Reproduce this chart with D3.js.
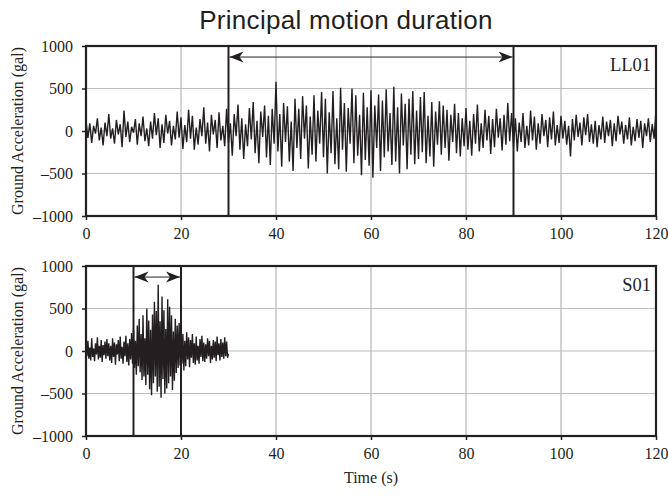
<!DOCTYPE html>
<html>
<head>
<meta charset="utf-8">
<script src="https://cdn.jsdelivr.net/npm/d3@7"></script>
<style>
  body { margin: 0; background: #fff; }
  svg { display: block; }
</style>
</head>
<body>
<div id="chart"></div>
<script>
// ground acceleration (gal)
const ll01Step = 0.4; // s between samples
const ll01 = [
  120, -80, 90, -140, 60, -30, 150, -110, 40, -170, 100, -60, 200, -90, 30, -150, 130, -40, 80, -190, 240, -70, 110, -130, 50,
  -20, 140, -160, 90, -60, 170, -120, 30, -180, 110, -90, 210, -50, 150, -200, 80, -140, 190, -30, 120, -170, 60, -100, 230, -80,
  160, -210, 70, -130, 250, -90, 180, -220, 40, -160, 140, -60, 280, -150, 100, -240, 190, -40, 130, -200, 220, -110, 60, -180, 260,
  -140, 90, -290, 200, -60, 310, -220, 150, -330, 80, -180, 270, -100, 340, -260, 120, -380, 230, -70, 300, -310, 180, -400, 260, -150,
  580, -240, 200, -420, 330, -130, 290, -360, 110, -470, 380, -200, 260, -330, 410, -90, 300, -440, 170, -280, 420, -360, 240, -150, 460,
  -310, 380, -500, 220, -260, 470, -390, 150, -450, 510, -220, 330, -480, 270, -150, 500, -380, 420, -290, 190, -520, 450, -340, 280, -410,
  480, -550, 300, -200, 430, -470, 360, -310, 490, -240, 210, -400, 520, -360, 280, -500, 440, -170, 320, -450, 380, -280, 470, -390, 240,
  -330, 400, -250, 460, -380, 180, -300, 340, -420, 230, -160, 350, -280, 300, -200, 250, -350, 190, -130, 320, -260, 210, -300, 150, -180,
  270, -220, 120, -290, 200, -150, 310, -240, 90, -200, 250, -110, 180, -270, 140, -190, 260, -80, 150, -230, 190, -160, 330, -120, 210,
  -180, 150, -240, 100, -130, 210, -200, 60, -170, 240, -110, 170, -220, 90, -150, 200, -60, 130, -190, 160, -100, 230, -170, 70, -140,
  180, -90, 120, -160, 60, -300, 140, -110, 190, -70, 100, -170, 160, -50, 200, -130, 80, -150, 120, -190, 70, -100, 170, -140, 110,
  -60, 130, -180, 90, -120, 180, -40, 110, -150, 70, -100, 160, -170, 50, -120, 140, -80, 120, -200, 90, -60, 150, -130, 80, -90,
  250
];

const s01Step = 0.2;
const s01 = [
  80, -60, 120, -90, 40, -110, 150, -70, 30, -120, 90, -40, 160, -100, 60, -80, 130, -130, 70, -50, 110, -90, 140, -60, 90,
  -110, 60, -140, 150, -70, 100, -160, 80, -40, 130, -120, 170, -90, 50, -150, 110, -60, 180, -130, 90, -170, 140, -100, 210, -150,
  250, -200, 120, -280, 300, -180, 380, -250, 200, -340, 420, -300, 150, -400, 500, -280, 360, -450, 250, -520, 430, -380, 580, -300, 470,
  -480, 780, -420, 350, -550, 640, -330, 480, -500, 260, -440, 610, -380, 520, -300, 420, -460, 230, -350, 380, -260, 300, -200, 330, -170,
  250, -150, 200, -230, 120, -180, 220, -100, 160, -190, 130, -80, 200, -140, 90, -160, 170, -110, 60, -150, 140, -70, 180, -120, 100,
  -130, 80, -90, 150, -60, 120, -140, 60, -100, 130, -80, 110, -120, 170, -50, 90, -110, 140, -70, 100, -90, 160, -60, 110, -80,
  -30
];

const stations = ["LL01", "S01"];
const durations = [[30, 90], [10, 20]];
const xTicks = [0, 20, 40, 60, 80, 100, 120];
const yTicks = [-1000, -500, 0, 500, 1000];

const width = 668, height = 495;
const left = 86, right = 656;
const panelTops = [46, 266];
const panelH = 170;

const svg = d3.select("#chart").append("svg")
    .attr("width", width)
    .attr("height", height);

svg.append("defs").append("marker")
    .attr("id", "head")
    .attr("viewBox", "0 -6 15 12")
    .attr("markerUnits", "userSpaceOnUse")
    .attr("markerWidth", 15)
    .attr("markerHeight", 12)
    .attr("refX", 14)
    .attr("refY", 0)
    .attr("orient", "auto-start-reverse")
    .append("path")
    .attr("d", "M0,-5.5L14,0L0,5.5L4,0Z")
    .attr("fill", "#231f20");

const x = d3.scaleLinear().domain([0, 120]).range([left, right]);

const serif = "'Liberation Serif', 'Times New Roman', serif";

svg.append("text")
    .attr("x", 346)
    .attr("y", 29)
    .attr("text-anchor", "middle")
    .attr("font-family", "'Liberation Sans', Arial, sans-serif")
    .attr("font-size", 26)
    .attr("letter-spacing", 0.3)
    .attr("fill", "#231f20")
    .text("Principal motion duration");

const series = [
  { data: ll01, dt: ll01Step },
  { data: s01, dt: s01Step }
];

series.forEach((s, k) => {
  const top = panelTops[k];
  const y = d3.scaleLinear().domain([-1000, 1000]).range([top + panelH, top]);
  const g = svg.append("g");

  // grid
  g.append("g").selectAll("line")
    .data(xTicks.slice(1, -1))
    .join("line")
    .attr("x1", d => x(d)).attr("x2", d => x(d))
    .attr("y1", top).attr("y2", top + panelH)
    .attr("stroke", "#a6a6a6").attr("stroke-width", 1);
  g.append("g").selectAll("line")
    .data(yTicks.slice(1, -1))
    .join("line")
    .attr("x1", left).attr("x2", right)
    .attr("y1", d => y(d)).attr("y2", d => y(d))
    .attr("stroke", "#bdbdbd").attr("stroke-width", 1.2);

  // axes
  const yAxis = g.append("g")
    .attr("transform", `translate(${left},0)`)
    .call(d3.axisLeft(y).tickValues(yTicks).tickSize(4).tickPadding(9)
      .tickFormat(d => d < 0 ? "\u2013" + Math.abs(d) : d));
  const xAxis = g.append("g")
    .attr("transform", `translate(0,${top + panelH})`)
    .call(d3.axisBottom(x).tickValues(xTicks).tickSize(4).tickPadding(8));
  [yAxis, xAxis].forEach(a => {
    a.select(".domain").remove();
    a.selectAll("line").attr("stroke", "#231f20").attr("stroke-width", 1.5);
    a.selectAll("text").attr("font-family", serif).attr("font-size", 16).attr("fill", "#231f20");
  });

  // signal
  const line = d3.line()
    .x((d, i) => x(i * s.dt))
    .y(d => y(d));
  g.append("path")
    .datum(s.data)
    .attr("d", line)
    .attr("fill", "none")
    .attr("stroke", "#231f20")
    .attr("stroke-width", 1.4)
    .attr("stroke-linejoin", "miter");

  // principal motion window
  g.append("g").selectAll("line")
    .data(durations[k])
    .join("line")
    .attr("x1", d => x(d)).attr("x2", d => x(d))
    .attr("y1", top).attr("y2", top + panelH)
    .attr("stroke", "#231f20").attr("stroke-width", 2);
  g.append("line")
    .attr("x1", x(durations[k][0]) + 1).attr("x2", x(durations[k][1]) - 1)
    .attr("y1", y(870)).attr("y2", y(870))
    .attr("stroke", "#231f20").attr("stroke-width", 1)
    .attr("marker-start", "url(#head)")
    .attr("marker-end", "url(#head)");

  // frame
  g.append("rect")
    .attr("x", left).attr("y", top)
    .attr("width", right - left).attr("height", panelH)
    .attr("fill", "none")
    .attr("stroke", "#231f20").attr("stroke-width", 2.2);

  g.append("text")
    .attr("x", right - 5)
    .attr("y", top + 25)
    .attr("text-anchor", "end")
    .attr("font-family", serif)
    .attr("font-size", 18.5)
    .attr("fill", "#231f20")
    .text(stations[k]);

  g.append("text")
    .attr("transform", `translate(23,${top + panelH / 2}) rotate(-90)`)
    .attr("text-anchor", "middle")
    .attr("font-family", serif)
    .attr("font-size", 16)
    .attr("fill", "#231f20")
    .text("Ground Acceleration (gal)");
});

svg.append("text")
    .attr("x", (left + right) / 2)
    .attr("y", 483)
    .attr("text-anchor", "middle")
    .attr("font-family", serif)
    .attr("font-size", 16)
    .attr("fill", "#231f20")
    .text("Time (s)");
</script>
</body>
</html>
